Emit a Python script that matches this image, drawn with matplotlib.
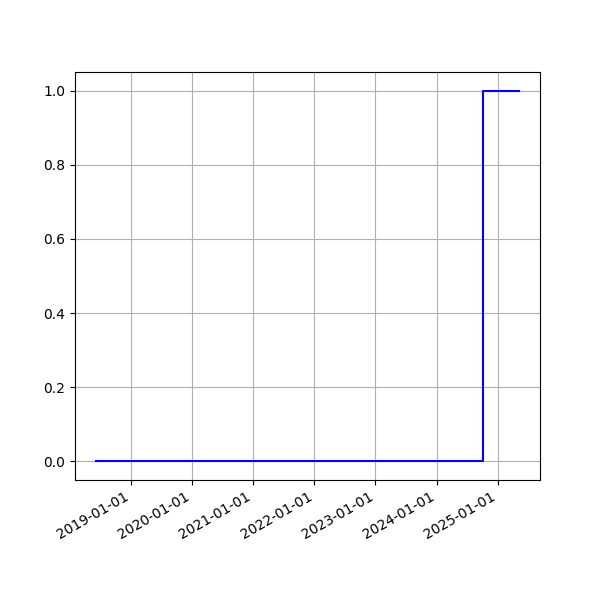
import matplotlib
matplotlib.use('Agg')
import matplotlib.pyplot as plt
import matplotlib.dates as mdates
from datetime import datetime

# step series: 0 until the switch date, then 1
dates = [datetime(2018, 6, 10), datetime(2024, 10, 1), datetime(2025, 5, 5)]
values = [0, 1, 1]

fig, ax = plt.subplots(figsize=(6, 6), dpi=100)
ax.plot(dates, values, color='blue', drawstyle='steps-post')

ax.xaxis.set_major_locator(mdates.YearLocator())
ax.xaxis.set_major_formatter(mdates.DateFormatter('%Y-%m-%d'))
ax.grid(True)

fig.autofmt_xdate()
fig.savefig('out.png')
